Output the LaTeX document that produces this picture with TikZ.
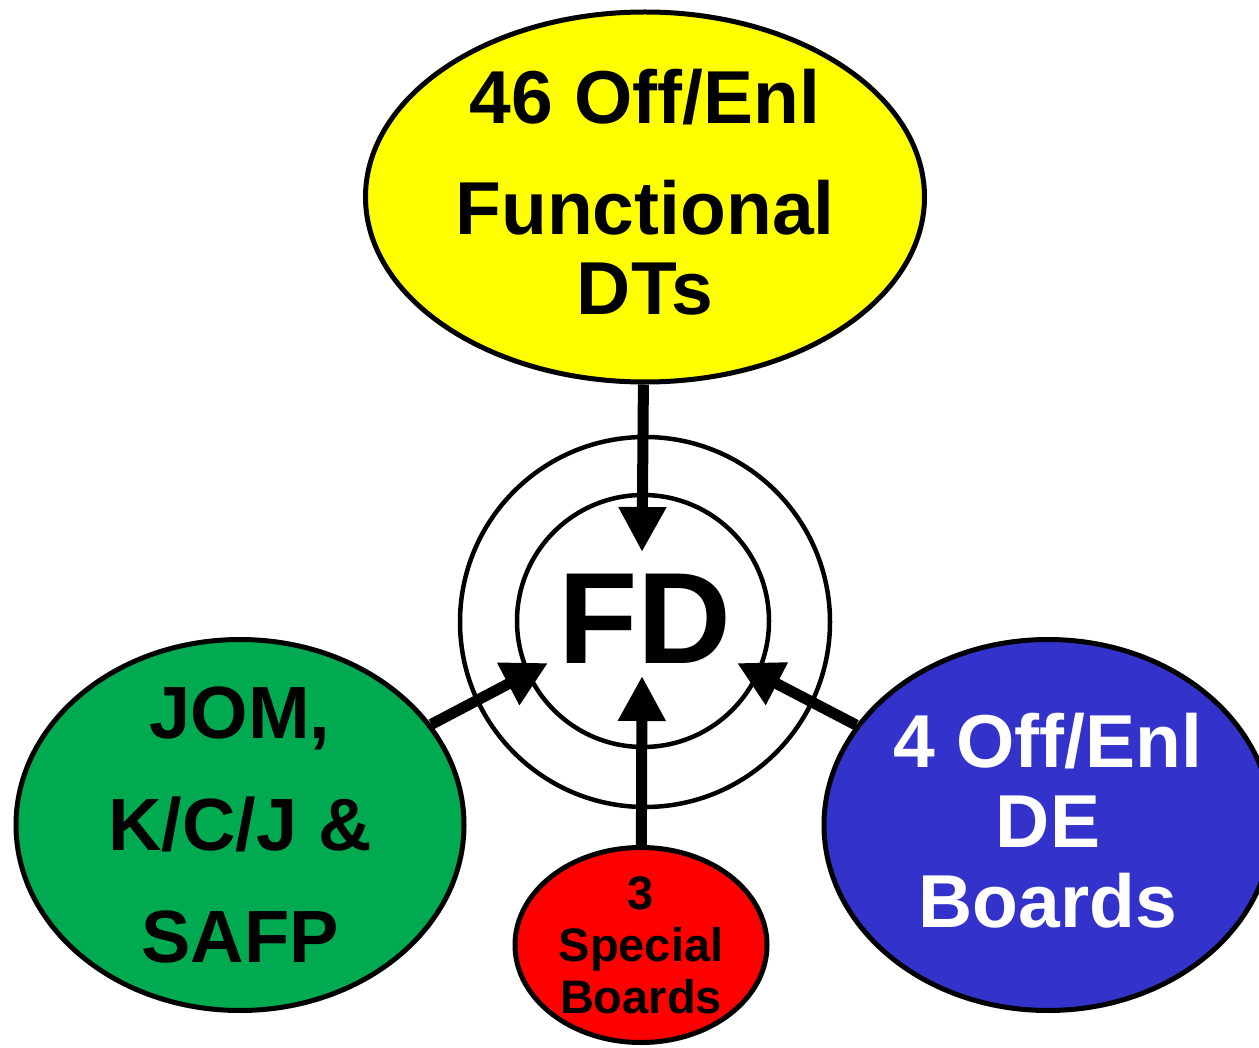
\documentclass[tikz,border=0pt]{standalone}
\usepackage{fontspec}
\setmainfont{Liberation Sans}
\usetikzlibrary{shapes.geometric}
\usetikzlibrary{arrows.meta}
\definecolor{dtyellow}{RGB}{255,255,0}
\definecolor{jomgreen}{RGB}{0,170,80}
\definecolor{deblue}{RGB}{51,51,204}
\definecolor{specred}{RGB}{255,0,0}

\begin{document}
\begin{tikzpicture}[x=1pt, y=-1pt,
    board/.style={ellipse, draw, line width=5pt, inner sep=0pt, align=center},
    ring/.style={circle, draw, line width=4.5pt, inner sep=0pt},
    feed/.style={line width=11pt, -{Triangle[length=45pt, width=45pt]}}]
    \useasboundingbox (0,0) rectangle (1259,1048);
    \clip (0,0) rectangle (1259,1048);

    % Central rings
    \node[ring, minimum size=370pt] (outer) at (645,622) {};
    \node[ring, minimum size=252pt] (inner) at (643,621) {};
    \node[font=\bfseries\fontsize{130}{130}\selectfont, inner sep=0pt, anchor=base] (fd) at (645,663) {FD};

    % Boards around the centre
    \node[board, fill=dtyellow, minimum width=559pt, minimum height=370pt,
          font=\bfseries\fontsize{75}{80}\selectfont] (dt) at (645,197)
          {46 Off/Enl\\[31pt]Functional\\DTs\rule[-10pt]{0pt}{0pt}};
    \node[board, fill=jomgreen, minimum width=448pt, minimum height=371pt, inner ysep=-30pt,
          font=\bfseries\fontsize{74}{112}\selectfont] (jom) at (240,825)
          {JOM,\\K/C/J \&\\SAFP};
    \node[board, fill=deblue, text=white, minimum width=448pt, minimum height=371pt,
          font=\bfseries\fontsize{75}{80}\selectfont] (de) at (1048,825)
          {4 Off/Enl\\DE\\Boards\rule[-9pt]{0pt}{0pt}};
    \node[board, fill=specred, minimum width=252pt, minimum height=195pt, inner ysep=-15pt,
          font=\bfseries\fontsize{47}{52}\selectfont] (spec) at (641,945)
          {3\\Special\\Boards};

    % Arrow tips inside the inner ring
    \coordinate (tipN) at (642,552);
    \coordinate (tipS) at (642,676);
    \coordinate (tipW) at (548,663);
    \coordinate (tipE) at (737,663);

    % Arrows into FD
    \draw[feed] (dt) -- (tipN);
    \draw[feed] (spec) -- (tipS);
    \draw[feed] (jom) -- (tipW);
    \draw[feed] (de) -- (tipE);

\end{tikzpicture}
\end{document}
